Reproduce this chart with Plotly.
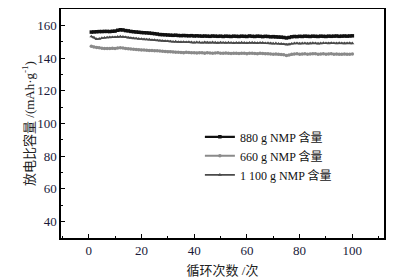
import plotly.graph_objects as go

cycles = list(range(1, 101))

cap_880 = [
    155.9, 156.0, 156.1, 156.2, 156.2, 156.3, 156.3, 156.2, 156.4, 156.5,
    157.0, 157.3, 157.2, 156.8, 156.6, 156.3, 156.1, 155.9, 155.8, 155.6,
    155.5, 155.4, 155.3, 155.1, 154.9, 154.7, 154.4, 154.3, 154.2, 154.1,
    154.0, 153.9, 154.0, 153.8, 153.7, 153.8, 153.7, 153.6, 153.7, 153.5,
    153.6, 153.5, 153.4, 153.5, 153.4, 153.3, 153.5, 153.4, 153.3, 153.4,
    153.2, 153.4, 153.3, 153.2, 153.4, 153.3, 153.2, 153.4, 153.3, 153.2,
    153.5, 153.3, 153.2, 153.4, 153.3, 153.1, 153.3, 153.2, 153.0, 153.1,
    153.0, 152.9, 152.8, 152.6, 152.3, 152.6, 153.0, 153.2, 153.1, 153.3,
    153.2, 153.4, 153.3, 153.2, 153.4, 153.3, 153.2, 153.4, 153.3, 153.2,
    153.4, 153.3, 153.4, 153.5, 153.3, 153.4, 153.5, 153.4, 153.5, 153.6,
]

cap_660 = [
    147.2, 146.8, 146.5, 146.3, 146.0, 145.9, 145.8, 145.9, 146.0, 145.9,
    146.1, 146.3, 146.1, 145.9, 145.7, 145.5, 145.4, 145.3, 145.1, 145.0,
    144.9, 144.8, 144.7, 144.6, 144.5, 144.4, 144.3, 144.2, 144.0, 143.9,
    143.8, 143.7, 143.5, 143.6, 143.4, 143.3, 143.5, 143.4, 143.2, 143.3,
    143.1, 143.3, 143.2, 143.0, 143.2, 143.1, 142.9, 143.1, 143.2, 143.0,
    142.9, 143.1, 143.0, 142.8, 143.0, 142.9, 142.8, 143.0, 142.9, 142.7,
    142.9, 143.0, 142.8, 142.7, 142.9, 142.8, 142.6, 142.7, 142.5, 142.4,
    142.5, 142.3, 142.2, 142.0, 141.6, 141.9, 142.3, 142.5, 142.6, 142.4,
    142.5, 142.6, 142.4, 142.5, 142.7, 142.6, 142.4, 142.5, 142.6, 142.4,
    142.5, 142.6, 142.4, 142.5, 142.3, 142.4, 142.5, 142.3, 142.4, 142.5,
]

cap_1100 = [
    153.2, 152.6, 151.6, 151.8, 152.2, 152.5, 152.6, 152.7, 152.8, 152.8,
    153.0, 153.2, 153.0, 152.8, 152.5, 152.3, 152.1, 152.0, 151.8, 151.7,
    151.5, 151.4, 151.3, 151.1, 151.0, 150.8, 150.6, 150.5, 150.4, 150.3,
    150.2, 150.0, 150.1, 149.9, 149.8, 149.9, 149.7, 149.8, 149.6, 149.5,
    149.7, 149.6, 149.4, 149.6, 149.5, 149.4, 149.6, 149.5, 149.3, 149.5,
    149.4, 149.3, 149.5, 149.4, 149.2, 149.4, 149.3, 149.5, 149.3, 149.2,
    149.4, 149.5, 149.3, 149.2, 149.4, 149.3, 149.1, 149.2, 149.0, 148.9,
    149.0, 148.8, 148.7, 148.5, 148.2, 148.4, 148.8, 149.0, 149.1, 148.9,
    149.0, 149.1, 148.9, 149.0, 149.2, 149.1, 148.9, 149.0, 149.2, 149.1,
    149.0, 149.2, 149.1, 149.0, 149.2, 149.1, 149.0, 149.1, 149.2, 149.0,
]

x_ticks = [0, 20, 40, 60, 80, 100]
y_ticks = [40, 60, 80, 100, 120, 140, 160]

names = ["880 g NMP 含量", "660 g NMP 含量", "1 100 g NMP 含量"]
series = [cap_880, cap_660, cap_1100]
colors = ["#111111", "#8a8a8a", "#4a4a4a"]
widths = [2.2, 2.0, 1.6]
symbols = ["square", "circle", "triangle-up"]

FONT = "Liberation Serif, Noto Sans CJK SC, serif"

fig = go.Figure()
for n, s, c, w, sym in zip(names, series, colors, widths, symbols):
    fig.add_trace(go.Scatter(
        x=cycles, y=s, name=n, mode="lines+markers",
        line=dict(color=c, width=w),
        marker=dict(symbol=sym, size=3.5, color=c),
    ))

def axis(rng, ticks, dminor, title, standoff):
    return dict(
        range=rng, tickmode="array", tickvals=ticks,
        showline=True, linecolor="black", linewidth=1.5, mirror=True,
        ticks="inside", ticklen=4, tickwidth=1, tickcolor="black",
        minor=dict(dtick=dminor, ticks="inside", ticklen=2, tickcolor="black", tickwidth=1),
        showgrid=False, zeroline=False, automargin=False,
        tickfont=dict(family=FONT, size=13, color="#1a1a3a"),
        title=dict(text=title, font=dict(family=FONT, size=13, color="#222222"), standoff=standoff),
    )

# the page body has an 8px margin, so the figure is drawn 8px in from the window corner
fig.update_layout(
    width=388, height=270,
    margin=dict(l=53, r=12, t=1, b=40, autoexpand=False),
    paper_bgcolor="white", plot_bgcolor="white",
    font=dict(family=FONT, color="#222222"),
    xaxis=axis([-10.5, 112], x_ticks, 10, "循环次数 /次", 10),
    yaxis=axis([30, 170], y_ticks, 10, "放电比容量 /(mAh·g<sup>-1</sup>)", 0),
    legend=dict(
        x=0.43, y=0.505, xanchor="left", yanchor="top",
        bgcolor="rgba(0,0,0,0)", borderwidth=0,
        font=dict(family=FONT, size=12, color="#111111"),
        itemwidth=30, tracegroupgap=0,
    ),
    showlegend=True,
)

fig.write_html("out.html")
